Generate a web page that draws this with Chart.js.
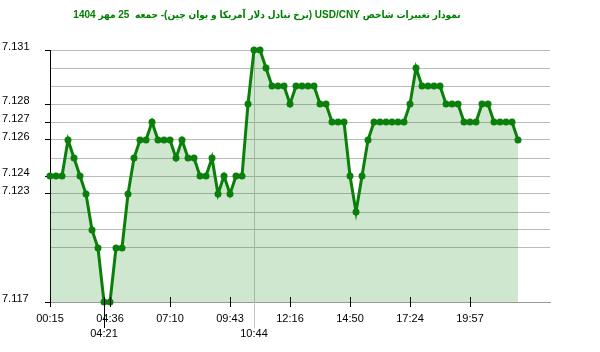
<!DOCTYPE html>
<html>
<head>
<meta charset="utf-8">
<script src="https://cdn.jsdelivr.net/npm/chart.js@4.4.0/dist/chart.umd.min.js"></script>
<style>
  html, body { margin: 0; padding: 0; background: #fff; }
  canvas { display: block; }
</style>
</head>
<body>
<canvas id="chart" width="600" height="352"></canvas>
<script>
const chartTitle = 'نمودار تغییرات شاخص USD/CNY (نرخ تبادل دلار آمریکا و یوان چین)- جمعه  25 مهر 1404';

// one value per sample, left to right
const rates = [
  7.124, 7.124, 7.124, 7.126, 7.125, 7.124, 7.123, 7.121, 7.120, 7.117,
  7.117, 7.120, 7.120, 7.123, 7.125, 7.126, 7.126, 7.127, 7.126, 7.126,
  7.126, 7.125, 7.126, 7.125, 7.125, 7.124, 7.124, 7.125, 7.123, 7.124,
  7.123, 7.124, 7.124, 7.128, 7.131, 7.131, 7.130, 7.129, 7.129, 7.129,
  7.128, 7.129, 7.129, 7.129, 7.129, 7.128, 7.128, 7.127, 7.127, 7.127,
  7.124, 7.122, 7.124, 7.126, 7.127, 7.127, 7.127, 7.127, 7.127, 7.127,
  7.128, 7.130, 7.129, 7.129, 7.129, 7.129, 7.128, 7.128, 7.128, 7.127,
  7.127, 7.127, 7.128, 7.128, 7.127, 7.127, 7.127, 7.127, 7.126
];

// x axis: sample index of each time label
const xTickIdx = [0, 10, 20, 30, 40, 50, 60, 70];
const xTickLabels = ['00:15', '04:36', '07:10', '09:43', '12:16', '14:50', '17:24', '19:57'];
const xSlots = 83.33;

// min / max markers
const lowIdx = 9, lowLabel = '04:21';
const highIdx = 34, highLabel = '10:44';

// y axis
const yMin = 7.117, yMax = 7.131;
const yLabels = [7.131, 7.128, 7.127, 7.126, 7.124, 7.123, 7.117];

const r3 = v => Math.round(v * 1000) / 1000;
const levels = new Set(rates.map(r3));
const labeled = new Set(yLabels.map(r3));

const markPlugin = {
  id: 'marks',
  beforeDatasetsDraw(chart) {
    const {ctx, chartArea, scales: {x}} = chart;
    const px = Math.round(x.getPixelForValue(highIdx)) + 0.5;
    ctx.save();
    ctx.strokeStyle = '#c4c4c4';
    ctx.lineWidth = 1;
    ctx.beginPath();
    ctx.moveTo(px, chartArea.top);
    ctx.lineTo(px, chartArea.bottom + 26);
    ctx.stroke();
    ctx.restore();
  },
  afterDatasetsDraw(chart) {
    const {ctx, chartArea, scales: {x}} = chart;
    ctx.save();
    ctx.strokeStyle = '#000';
    ctx.lineWidth = 1;
    ctx.beginPath();
    xTickIdx.forEach(i => {
      const px = Math.round(x.getPixelForValue(i)) + 0.5;
      ctx.moveTo(px, chartArea.bottom - 5);
      ctx.lineTo(px, chartArea.bottom + 5);
    });
    const lx = Math.round(x.getPixelForValue(lowIdx)) + 0.5;
    ctx.moveTo(lx, chartArea.bottom - 5);
    ctx.lineTo(lx, chartArea.bottom + 26);
    ctx.stroke();
    ctx.restore();
  },
  afterDraw(chart) {
    // title sits left of centre in the original, so it is drawn here
    const ctx = chart.ctx;
    ctx.save();
    ctx.direction = 'rtl';
    ctx.textAlign = 'center';
    ctx.textBaseline = 'middle';
    ctx.fillStyle = '#008000';
    ctx.font = 'bold 10px "Liberation Sans", "DejaVu Sans Condensed", "DejaVu Sans", sans-serif';
    ctx.fillText(chartTitle, 267, 15);
    ctx.restore();
  }
};

const labelFont = { family: 'Liberation Sans, Arial, sans-serif', size: 11, lineHeight: 1.4 };

new Chart(document.getElementById('chart'), {
  type: 'line',
  data: {
    datasets: [{
      data: rates.map((v, i) => ({ x: i, y: v })),
      borderColor: '#0a800a',
      backgroundColor: 'rgba(0, 128, 0, 0.19)',
      fill: 'start',
      borderWidth: 3,
      pointRadius: 3.5,
      pointBackgroundColor: '#0a800a',
      pointBorderWidth: 0,
      tension: 0,
      clip: false
    }]
  },
  options: {
    responsive: false,
    animation: false,
    layout: { padding: { left: 2, right: 50, top: 50, bottom: 0 } },
    plugins: {
      legend: { display: false },
      tooltip: { enabled: false },
      title: { display: false }
    },
    scales: {
      x: {
        type: 'linear',
        min: 0,
        max: xSlots,
        afterBuildTicks: s => {
          s.ticks = xTickIdx.concat([lowIdx, highIdx]).map(v => ({ value: v }));
        },
        afterFit: s => { s.height = 50; },
        grid: { display: false, drawTicks: false },
        border: { display: true, color: '#999', width: 1 },
        ticks: {
          autoSkip: false,
          maxRotation: 0,
          padding: 9,
          color: '#000',
          font: labelFont,
          callback: v => {
            if (v === lowIdx) return ['', lowLabel];
            if (v === highIdx) return ['', highLabel];
            const k = xTickIdx.indexOf(v);
            return k >= 0 ? xTickLabels[k] : '';
          }
        }
      },
      y: {
        min: yMin,
        max: yMax,
        afterBuildTicks: s => {
          const t = [];
          for (let v = yMin; v <= yMax + 1e-9; v += 0.001) t.push({ value: r3(v) });
          s.ticks = t;
        },
        afterFit: s => { s.width = 48; },
        grid: {
          color: c => (c.tick && c.tick.value > yMin && levels.has(r3(c.tick.value))) ? '#bbbbbb' : 'rgba(0,0,0,0)',
          tickColor: c => (c.tick && labeled.has(r3(c.tick.value))) ? '#000' : 'rgba(0,0,0,0)',
          tickLength: 5
        },
        border: { display: true, color: '#000', width: 1 },
        ticks: {
          crossAlign: 'far',
          labelOffset: -3,
          color: '#000',
          font: { family: 'Liberation Sans, Arial, sans-serif', size: 11 },
          callback: v => labeled.has(r3(v)) ? r3(v).toFixed(3) : ''
        }
      }
    }
  },
  plugins: [markPlugin]
});
</script>
</body>
</html>
